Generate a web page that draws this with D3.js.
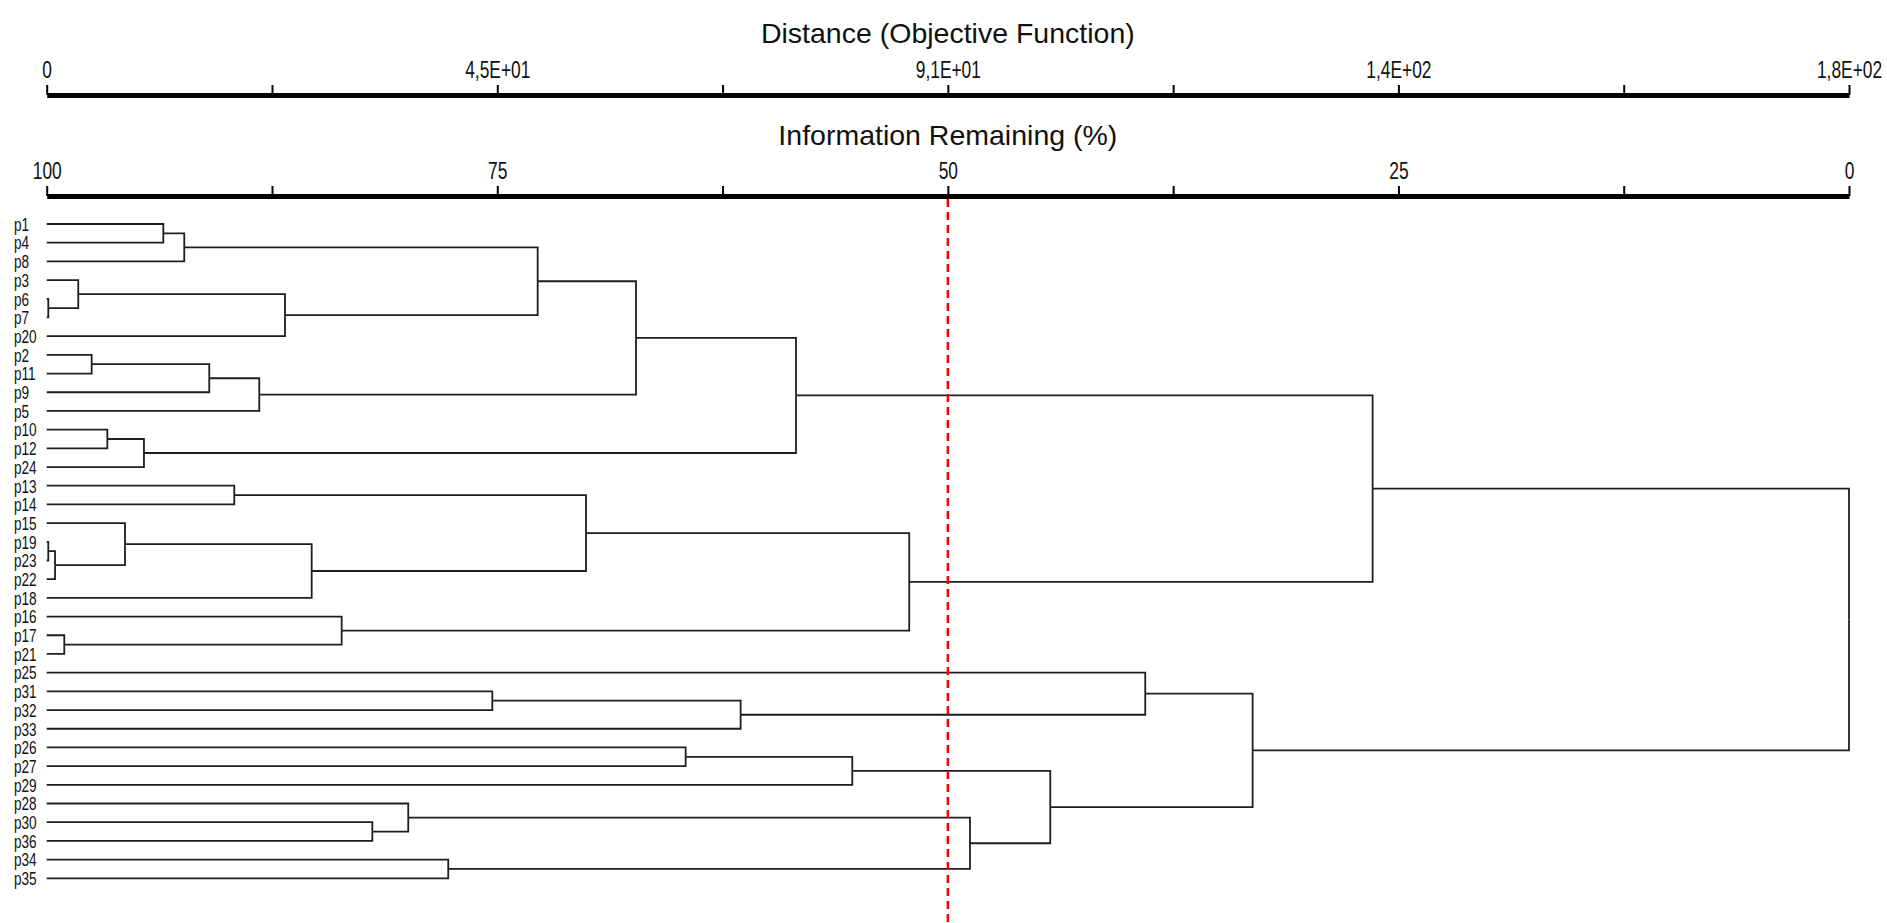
<!DOCTYPE html>
<html>
<head>
<meta charset="utf-8">
<script src="https://cdn.jsdelivr.net/npm/d3@7"></script>
<style>
  html, body { margin: 0; padding: 0; background: #fff; }
  svg { display: block; }
  .sans { font-family: 'Liberation Sans', Arial, sans-serif; }
</style>
</head>
<body>
<svg id="chart" width="1887" height="923"></svg>
<script>
// ---------------- DATA ----------------
const D_MAX = 181.6; // distance (objective function) at the root
const distanceTicks = [0, 22.7, 45.4, 68.1, 90.8, 113.5, 136.2, 158.9, 181.6];
const distanceTickLabels = ["0", "", "4,5E+01", "", "9,1E+01", "", "1,4E+02", "", "1,8E+02"];
const infoTicks = [100, 87.5, 75, 62.5, 50, 37.5, 25, 12.5, 0];
const infoTickLabels = ["100", "", "75", "", "50", "", "25", "", "0"];
const cutLevel = 50; // information remaining (%) of the dashed cut line

const leaves = ["p1","p4","p8","p3","p6","p7","p20","p2","p11","p9","p5","p10","p12","p24",
  "p13","p14","p15","p19","p23","p22","p18","p16","p17","p21",
  "p25","p31","p32","p33","p26","p27","p29","p28","p30","p36","p34","p35"];

// [cluster id, child A, child B, merge distance]
const merges = [
  ["c1","p1","p4",11.75],
  ["c2","c1","p8",13.86],
  ["c3","p6","p7",0.16],
  ["c4","p3","c3",3.18],
  ["c5","c4","p20",24.01],
  ["c6","c2","c5",49.47],
  ["c7","p2","p11",4.53],
  ["c8","c7","p9",16.38],
  ["c9","c8","p5",21.42],
  ["c10","c6","c9",59.38],
  ["c11","p10","p12",6.11],
  ["c12","c11","p24",9.80],
  ["c13","c10","c12",75.50],
  ["c14","p13","p14",18.90],
  ["c15","p19","p23",0.16],
  ["c16","c15","p22",0.84],
  ["c17","p15","c16",7.89],
  ["c18","c17","p18",26.70],
  ["c19","c14","c18",54.34],
  ["c20","p17","p21",1.77],
  ["c21","p16","c20",29.72],
  ["c22","c19","c21",86.91],
  ["c23","c13","c22",133.60],
  ["c24","p31","p32",44.90],
  ["c25","c24","p33",69.92],
  ["c26","p25","c25",110.69],
  ["c27","p26","p27",64.38],
  ["c28","c27","p29",81.17],
  ["c29","p30","p36",32.81],
  ["c30","p28","c29",36.43],
  ["c31","p34","p35",40.46],
  ["c32","c30","c31",93.03],
  ["c33","c28","c32",101.12],
  ["c34","c26","c33",121.51],
  ["c35","c23","c34",181.6]
];

// ---------------- LAYOUT ----------------
const svg = d3.select("#chart");
const x0 = 46.7, x1 = 1849;
const x = d3.scaleLinear().domain([0, D_MAX]).range([x0, x1]);
const xInfo = d3.scaleLinear().domain([100, 0]).range([x0, x1]);
const y = d3.scalePoint().domain(leaves).range([224, 878.3]);

// build the tree
const nodeMap = {};
leaves.forEach(n => nodeMap[n] = { name: n, height: 0 });
merges.forEach(([id, a, b, h]) => {
  nodeMap[id] = { name: id, height: h, children: [nodeMap[a], nodeMap[b]] };
});
const root = d3.hierarchy(nodeMap[merges[merges.length - 1][0]]);
root.eachAfter(d => {
  d.py = d.children ? d3.mean(d.children, c => c.py) : y(d.data.name);
  d.px = x(d.data.height);
});

// ---------------- TITLES ----------------
svg.append("text").attr("class", "sans")
  .attr("x", (x0 + x1) / 2).attr("y", 43)
  .attr("text-anchor", "middle").attr("font-size", 28.5).attr("fill", "#111")
  .text("Distance (Objective Function)");
svg.append("text").attr("class", "sans")
  .attr("x", (x0 + x1) / 2).attr("y", 145)
  .attr("text-anchor", "middle").attr("font-size", 28.5).attr("fill", "#111")
  .text("Information Remaining (%)");

// ---------------- AXES ----------------
function styleAxis(g) {
  g.select(".domain").attr("stroke", "#000").attr("stroke-width", 5);
  g.selectAll(".tick line").attr("stroke", "#000").attr("stroke-width", 2);
  g.selectAll(".tick text")
    .attr("class", "sans").attr("font-size", 22).attr("fill", "#111")
    .attr("y", 0).attr("dy", null)
    .attr("transform", "translate(0,-17.5) scale(0.79,1.08)");
}
const axisD = d3.axisTop(x).tickValues(distanceTicks).tickSize(10).tickSizeOuter(0)
  .tickPadding(8).tickFormat((d, i) => distanceTickLabels[i]);
svg.append("g").attr("transform", "translate(0,95)").call(axisD).call(styleAxis);

const axisI = d3.axisTop(xInfo).tickValues(infoTicks).tickSize(10).tickSizeOuter(0)
  .tickPadding(8).tickFormat((d, i) => infoTickLabels[i]);
svg.append("g").attr("transform", "translate(0,196)").call(axisI).call(styleAxis);

// ---------------- DENDROGRAM ----------------
const gTree = svg.append("g");
gTree.selectAll("path.link").data(root.links()).join("path")
  .attr("class", "link")
  .attr("fill", "none").attr("stroke", "#1e1e1e").attr("stroke-width", 1.8)
  .attr("d", l => `M${l.target.px},${l.target.py}H${l.source.px}V${l.source.py}`);

// leaf labels
svg.append("g").selectAll("text").data(root.leaves()).join("text")
  .attr("class", "sans")
  .attr("transform", d => `translate(14,${d.py + 6.8}) scale(0.8,1.05)`)
  .attr("font-size", 17).attr("fill", "#111")
  .text(d => d.data.name);

// cut line
svg.append("line")
  .attr("x1", xInfo(cutLevel)).attr("x2", xInfo(cutLevel))
  .attr("y1", 199).attr("y2", 923)
  .attr("stroke", "#ff0000").attr("stroke-width", 2.5).attr("stroke-dasharray", "8,5");
</script>
</body>
</html>
